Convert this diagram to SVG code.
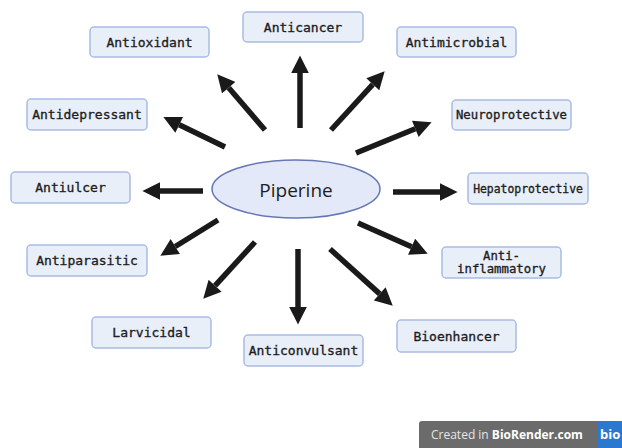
<svg xmlns="http://www.w3.org/2000/svg" width="622" height="448" viewBox="0 0 622 448">
<defs>
<style>
.box{fill:#e9eff9;stroke:#a8bde2;stroke-width:1.5}
.lbl{font-family:"DejaVu Sans Mono","Liberation Mono",monospace;font-size:13px;fill:#1e1e1e;stroke:#1e1e1e;stroke-width:0.35;text-anchor:middle;dominant-baseline:central}
.arr{stroke:#1a1a1a;stroke-width:5.5;fill:none;marker-end:url(#ah)}
</style>
<marker id="ah" viewBox="0 0 10 10" refX="0" refY="5" markerWidth="3.3" markerHeight="3.2" orient="auto" markerUnits="strokeWidth">
<path d="M0,0 L10,5 L0,10 z" fill="#1a1a1a"/>
</marker>
</defs>
<rect width="622" height="448" fill="#ffffff"/>
<g id="connectors">
<line class="arr" x1="265" y1="130" x2="228.7" y2="87.7"/>
<line class="arr" x1="300" y1="128" x2="300" y2="73"/>
<line class="arr" x1="225" y1="147" x2="179.2" y2="124.8"/>
<line class="arr" x1="331" y1="130" x2="372.8" y2="84.3"/>
<line class="arr" x1="356" y1="153" x2="415.3" y2="128.8"/>
<line class="arr" x1="203" y1="191" x2="160" y2="191"/>
<line class="arr" x1="393" y1="192" x2="440" y2="192"/>
<line class="arr" x1="218" y1="220" x2="175.3" y2="246.5"/>
<line class="arr" x1="358" y1="223" x2="411.6" y2="246.7"/>
<line class="arr" x1="255" y1="242" x2="215.1" y2="285.7"/>
<line class="arr" x1="298" y1="249" x2="298" y2="307"/>
<line class="arr" x1="330" y1="249" x2="379.7" y2="293.9"/>
</g>
<g id="piperine">
<ellipse cx="296" cy="189" rx="84" ry="29" fill="#e3e9f8" stroke="#6577b5" stroke-width="1.5"/>
<text x="296" y="190" font-family="'Open Sans',Roboto,sans-serif" font-size="19" fill="#1e1e1e" text-anchor="middle" dominant-baseline="central">Piperine</text>
</g>
<g id="antioxidant"><rect class="box" x="90" y="27" width="119" height="30" rx="4"/><text class="lbl" x="149.5" y="42">Antioxidant</text></g>
<g id="anticancer"><rect class="box" x="243" y="12" width="120" height="30" rx="4"/><text class="lbl" x="303" y="27">Anticancer</text></g>
<g id="antimicrobial"><rect class="box" x="397" y="27" width="119" height="30" rx="4"/><text class="lbl" x="456.5" y="42">Antimicrobial</text></g>
<g id="antidepressant"><rect class="box" x="27" y="99" width="120" height="31" rx="4"/><text class="lbl" x="87" y="114.5">Antidepressant</text></g>
<g id="neuroprotective"><rect class="box" x="452" y="100" width="119" height="30" rx="4"/><text class="lbl" x="511.5" y="115" style="font-size:12.3px">Neuroprotective</text></g>
<g id="antiulcer"><rect class="box" x="11" y="172" width="119" height="31" rx="4"/><text class="lbl" x="70.5" y="187.5">Antiulcer</text></g>
<g id="hepatoprotective"><rect class="box" x="468" y="173" width="120" height="31" rx="4"/><text class="lbl" x="528" y="188.5" style="font-size:11.4px">Hepatoprotective</text></g>
<g id="antiparasitic"><rect class="box" x="27" y="245" width="120" height="31" rx="4"/><text class="lbl" x="87" y="260.5">Antiparasitic</text></g>
<g id="antiinflammatory"><rect class="box" x="442" y="247" width="119" height="31" rx="4"/><text class="lbl" x="501.5" y="256" style="font-size:12.3px">Anti-</text><text class="lbl" x="501.5" y="269" style="font-size:12.3px">inflammatory</text></g>
<g id="larvicidal"><rect class="box" x="92" y="317" width="119" height="31" rx="4"/><text class="lbl" x="151.5" y="332.5">Larvicidal</text></g>
<g id="anticonvulsant"><rect class="box" x="244" y="335" width="119" height="31" rx="4"/><text class="lbl" x="303.5" y="350.5">Anticonvulsant</text></g>
<g id="bioenhancer"><rect class="box" x="397" y="320" width="119" height="32" rx="4"/><text class="lbl" x="456.5" y="336">Bioenhancer</text></g>
<g id="badge">
<rect x="419" y="421" width="205" height="29" rx="3" fill="#6b6b6b"/>
<rect x="597" y="421" width="25" height="27" fill="#2b78d0"/>
<text x="431" y="439" font-family="'Open Sans',sans-serif" font-size="12" fill="#e6e6e6">Created in <tspan font-weight="bold" fill="#ffffff">BioRender.com</tspan></text>
<text x="600" y="439" font-family="'Open Sans',sans-serif" font-size="13" font-weight="bold" fill="#ffffff">bio</text>
</g>
</svg>
